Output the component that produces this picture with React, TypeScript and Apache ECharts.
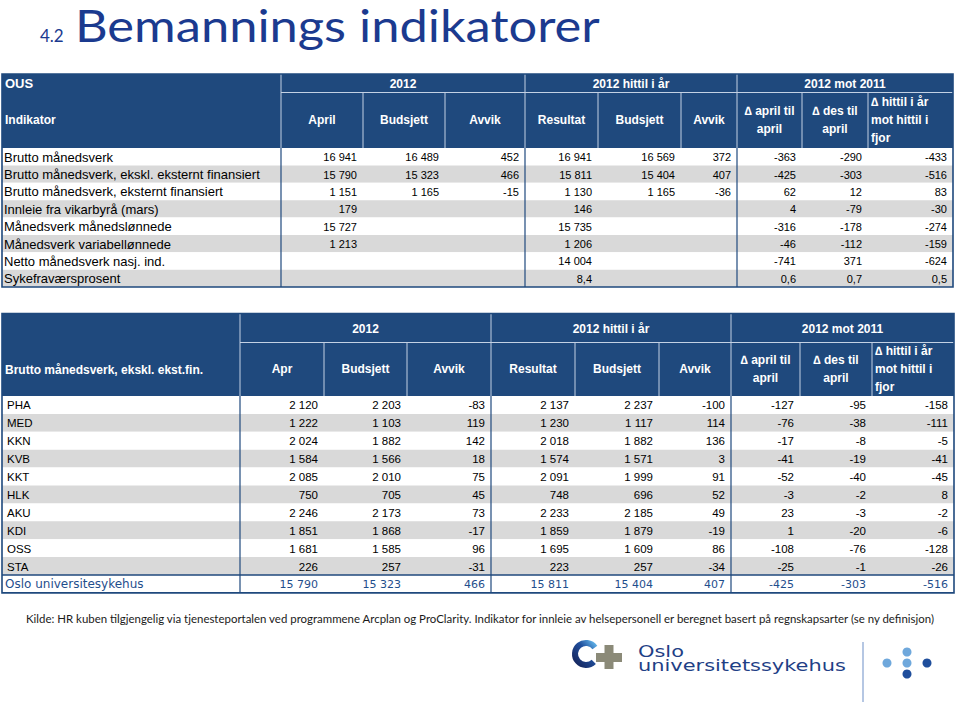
import React, { useEffect, useRef } from "react";
import * as echarts from "echarts";

// ---------- DATA ----------
const titleNumber = "4.2";
const titleText = "Bemannings indikatorer";
const footnote =
  "Kilde: HR kuben tilgjengelig via tjenesteportalen ved programmene Arcplan og ProClarity. Indikator for innleie av helsepersonell er beregnet basert på regnskapsarter (se ny definisjon)";

const groupTitles = ["2012", "2012 hittil i år", "2012 mot 2011"];

const t1Corner = "OUS";
const t1Head = "Indikator";
const t1ColumnTitles = [
  "April", "Budsjett", "Avvik", "Resultat", "Budsjett", "Avvik",
  "∆ april til\napril", "∆ des til\napril", "∆ hittil i år\nmot hittil i\nfjor",
];
const t1Indicators = [
  "Brutto månedsverk",
  "Brutto månedsverk, ekskl. eksternt finansiert",
  "Brutto månedsverk, eksternt finansiert",
  "Innleie fra vikarbyrå (mars)",
  "Månedsverk månedslønnede",
  "Månedsverk variabellønnede",
  "Netto månedsverk nasj. ind.",
  "Sykefraværsprosent",
];
const t1April = [16941, 15790, 1151, 179, 15727, 1213, null, null];
const t1Budget = [16489, 15323, 1165, null, null, null, null, null];
const t1Dev = [452, 466, -15, null, null, null, null, null];
const t1YtdResult = [16941, 15811, 1130, 146, 15735, 1206, 14004, 8.4];
const t1YtdBudget = [16569, 15404, 1165, null, null, null, null, null];
const t1YtdDev = [372, 407, -36, null, null, null, null, null];
const t1DeltaAprApr = [-363, -425, 62, 4, -316, -46, -741, 0.6];
const t1DeltaDecApr = [-290, -303, 12, -79, -178, -112, 371, 0.7];
const t1DeltaYtd = [-433, -516, 83, -30, -274, -159, -624, 0.5];

const t2Head = "Brutto månedsverk, ekskl. ekst.fin.";
const t2ColumnTitles = [
  "Apr", "Budsjett", "Avvik", "Resultat", "Budsjett", "Avvik",
  "∆ april til\napril", "∆ des til\napril", "∆ hittil i år\nmot hittil i\nfjor",
];
const t2Units = ["PHA", "MED", "KKN", "KVB", "KKT", "HLK", "AKU", "KDI", "OSS", "STA", "Oslo universitesykehus"];
const t2Apr = [2120, 1222, 2024, 1584, 2085, 750, 2246, 1851, 1681, 226, 15790];
const t2Budget = [2203, 1103, 1882, 1566, 2010, 705, 2173, 1868, 1585, 257, 15323];
const t2Dev = [-83, 119, 142, 18, 75, 45, 73, -17, 96, -31, 466];
const t2YtdResult = [2137, 1230, 2018, 1574, 2091, 748, 2233, 1859, 1695, 223, 15811];
const t2YtdBudget = [2237, 1117, 1882, 1571, 1999, 696, 2185, 1879, 1609, 257, 15404];
const t2YtdDev = [-100, 114, 136, 3, 91, 52, 49, -19, 86, -34, 407];
const t2DeltaAprApr = [-127, -76, -17, -41, -52, -3, 23, 1, -108, -25, -425];
const t2DeltaDecApr = [-95, -38, -8, -19, -40, -2, -3, -20, -76, -1, -303];
const t2DeltaYtd = [-158, -111, -5, -41, -45, 8, -2, -6, -128, -26, -516];

const logoName1 = "Oslo";
const logoName2 = "universitetssykehus";

// ---------- STYLE ----------
const NAVY = "#1F497D";
const HEAD_LINE = "#c3d1e4";
const STRIPE = "#D9D9D9";
const TITLE_BLUE = "#1b3a8f";
const TOTAL_BLUE = "#1f4e8c";

function fmt(v: number | null): string {
  if (v === null || v === undefined) return "";
  if (!Number.isInteger(v)) return v.toFixed(1).replace(".", ",");
  const s = Math.abs(v).toString().replace(/\B(?=(\d{3})+(?!\d))/g, " ");
  return (v < 0 ? "-" : "") + s;
}

function measure(text: string, font: string): number {
  const ctx = document.createElement("canvas").getContext("2d");
  if (!ctx) return 1;
  ctx.font = font;
  return ctx.measureText(text).width || 1;
}

type TableSpec = {
  edges: number[];
  top: number;
  h1: number;
  hb: number;
  rowH: number;
  corner: string;
  cornerLabel: string;
  cornerLabelY: number;
  colTitles: string[];
  labels: string[];
  cols: (number | null)[][];
  labelFont: number;
  numFont: number;
  labelX: number;
  hasTotal: boolean;
};

function buildTable(s: TableSpec): any[] {
  const els: any[] = [];
  const left = s.edges[0];
  const right = s.edges[s.edges.length - 1];
  const rows = s.labels.length;
  const bottom = s.hb + s.rowH * rows;
  const headMid2 = (s.h1 + s.hb) / 2;

  els.push({ type: "rect", silent: true, shape: { x: left, y: s.top, width: right - left, height: s.hb - s.top }, style: { fill: NAVY } });
  for (let i = 0; i < rows; i++) {
    const isTotal = s.hasTotal && i === rows - 1;
    els.push({
      type: "rect", silent: true,
      shape: { x: left, y: s.hb + i * s.rowH, width: right - left, height: s.rowH },
      style: { fill: i % 2 === 1 && !isTotal ? STRIPE : "#ffffff" },
    });
  }
  // header lines
  els.push({ type: "line", silent: true, shape: { x1: s.edges[1], y1: s.h1, x2: right, y2: s.h1 }, style: { stroke: HEAD_LINE, lineWidth: 1 } });
  for (let k = 1; k < s.edges.length - 1; k++) {
    const full = k === 1 || k === 4 || k === 7;
    els.push({ type: "line", silent: true, shape: { x1: s.edges[k], y1: full ? s.top : s.h1, x2: s.edges[k], y2: s.hb }, style: { stroke: HEAD_LINE, lineWidth: 1 } });
  }
  // body lines
  [1, 4, 7].forEach((k) => {
    els.push({ type: "line", silent: true, shape: { x1: s.edges[k], y1: s.hb, x2: s.edges[k], y2: bottom }, style: { stroke: NAVY, lineWidth: 1.2 } });
  });
  if (s.hasTotal) {
    const ty = s.hb + (rows - 1) * s.rowH;
    els.push({ type: "line", silent: true, shape: { x1: left, y1: ty, x2: right, y2: ty }, style: { stroke: NAVY, lineWidth: 1.5 } });
  }
  els.push({ type: "rect", silent: true, shape: { x: left, y: s.top, width: right - left, height: bottom - s.top }, style: { fill: "none", stroke: NAVY, lineWidth: 1.6 } });

  const headFont = 'bold 12px "Liberation Sans", Arial, sans-serif';
  if (s.corner) {
    els.push({ type: "text", silent: true, x: left + 3, y: (s.top + s.h1) / 2, style: { text: s.corner, font: 'bold 13px "Liberation Sans", Arial, sans-serif', fill: "#fff", align: "left", verticalAlign: "middle" } });
  }
  els.push({ type: "text", silent: true, x: left + 3, y: s.cornerLabelY, style: { text: s.cornerLabel, font: headFont, fill: "#fff", align: "left", verticalAlign: "middle" } });
  const groupEdges = [[1, 4], [4, 7], [7, 10]];
  groupTitles.forEach((g, gi) => {
    const x = (s.edges[groupEdges[gi][0]] + s.edges[groupEdges[gi][1]]) / 2;
    els.push({ type: "text", silent: true, x, y: (s.top + s.h1) / 2 + 0.5, style: { text: g, font: headFont, fill: "#fff", align: "center", verticalAlign: "middle" } });
  });
  s.colTitles.forEach((t, ci) => {
    const x0 = s.edges[ci + 1];
    const x1 = s.edges[ci + 2];
    const lastCol = ci === s.colTitles.length - 1;
    els.push({
      type: "text", silent: true,
      x: lastCol ? x0 + 3 : (x0 + x1) / 2,
      y: headMid2,
      style: { text: t, font: headFont, fill: "#fff", align: lastCol ? "left" : "center", verticalAlign: "middle", lineHeight: 18 },
    });
  });

  for (let i = 0; i < rows; i++) {
    const isTotal = s.hasTotal && i === rows - 1;
    const cy = s.hb + (i + 0.5) * s.rowH + 0.5;
    els.push({
      type: "text", silent: true,
      x: isTotal ? left + 3 : s.labelX, y: cy,
      style: {
        text: s.labels[i],
        font: isTotal ? '12px "DejaVu Sans", sans-serif' : `${s.labelFont}px "Liberation Sans", Arial, sans-serif`,
        fill: isTotal ? TOTAL_BLUE : "#000", align: "left", verticalAlign: "middle",
      },
    });
    s.cols.forEach((col, ci) => {
      const txt = fmt(col[i]);
      if (!txt) return;
      els.push({
        type: "text", silent: true,
        x: s.edges[ci + 2] - 6, y: cy,
        style: {
          text: txt,
          font: isTotal ? '11px "DejaVu Sans", sans-serif' : `${s.numFont}px "Liberation Sans", Arial, sans-serif`,
          fill: isTotal ? TOTAL_BLUE : "#000", align: "right", verticalAlign: "middle",
        },
      });
    });
  }
  return els;
}

export default function App() {
  const ref = useRef<HTMLDivElement>(null);
  useEffect(() => {
    document.body.style.margin = "0";
    if (!ref.current) return;
    const chart = echarts.init(ref.current, null, { renderer: "svg" });

    const titleFont = '44px Lato, "Open Sans", sans-serif';
    const titleScale = 525 / measure(titleText, titleFont);
    const footFont = '12px Lato, "Open Sans", sans-serif';
    const footScale = 911 / measure(footnote, footFont);
    const logoFont = '15px "DejaVu Sans", sans-serif';
    const logoScale = 208 / measure(logoName2, logoFont);

    const t1 = buildTable({
      edges: [2, 281, 363, 445, 525, 598, 681, 737, 802, 868, 953],
      top: 74, h1: 92.5, hb: 148, rowH: 17.375,
      corner: t1Corner, cornerLabel: t1Head, cornerLabelY: 120,
      colTitles: t1ColumnTitles, labels: t1Indicators,
      cols: [t1April, t1Budget, t1Dev, t1YtdResult, t1YtdBudget, t1YtdDev, t1DeltaAprApr, t1DeltaDecApr, t1DeltaYtd],
      labelFont: 13, numFont: 11, labelX: 4, hasTotal: false,
    });
    const t2 = buildTable({
      edges: [2, 240, 324, 407, 491, 575, 659, 731, 800, 872, 954],
      top: 313.5, h1: 342.5, hb: 396, rowH: 17.9,
      corner: "", cornerLabel: t2Head, cornerLabelY: 370,
      colTitles: t2ColumnTitles, labels: t2Units,
      cols: [t2Apr, t2Budget, t2Dev, t2YtdResult, t2YtdBudget, t2YtdDev, t2DeltaAprApr, t2DeltaDecApr, t2DeltaYtd],
      labelFont: 11.5, numFont: 11.5, labelX: 7, hasTotal: true,
    });

    const logo: any[] = [
      {
        type: "arc", silent: true,
        shape: { cx: 586, cy: 654, r: 11, startAngle: Math.PI * 0.25, endAngle: Math.PI * 1.8, clockwise: true },
        style: {
          fill: "none", lineWidth: 6,
          stroke: new echarts.graphic.LinearGradient(0, 1, 1, 0, [
            { offset: 0, color: "#16245a" },
            { offset: 0.6, color: "#1f4e9c" },
            { offset: 1, color: "#5fb0e6" },
          ]),
        },
      },
      { type: "rect", silent: true, shape: { x: 596, y: 653, width: 26, height: 9 }, style: { fill: "#8b8a78" } },
      { type: "rect", silent: true, shape: { x: 604.5, y: 645, width: 9, height: 24 }, style: { fill: "#8b8a78" } },
      { type: "text", silent: true, x: 638, y: 652, scaleX: logoScale, style: { text: logoName1, font: logoFont, fill: "#1f3f86", align: "left", verticalAlign: "middle" } },
      { type: "text", silent: true, x: 638, y: 666, scaleX: logoScale, style: { text: logoName2, font: logoFont, fill: "#1f3f86", align: "left", verticalAlign: "middle" } },
      { type: "line", silent: true, shape: { x1: 863, y1: 642, x2: 863, y2: 702 }, style: { stroke: "#6d8fc7", lineWidth: 1 } },
      { type: "circle", silent: true, shape: { cx: 907, cy: 652, r: 4.5 }, style: { fill: "#6fa8dc" } },
      { type: "circle", silent: true, shape: { cx: 887, cy: 663, r: 4.5 }, style: { fill: "#6fa8dc" } },
      { type: "circle", silent: true, shape: { cx: 907, cy: 663, r: 4.5 }, style: { fill: "#6fa8dc" } },
      { type: "circle", silent: true, shape: { cx: 927, cy: 663, r: 4.5 }, style: { fill: "#1f4e9c" } },
      { type: "circle", silent: true, shape: { cx: 907, cy: 674, r: 4.5 }, style: { fill: "#1f4e9c" } },
    ];

    const option: any = {
      animation: false,
      backgroundColor: "#ffffff",
      graphic: {
        elements: [
          { type: "text", silent: true, x: 40, y: 35, style: { text: titleNumber, font: '17px Lato, "Open Sans", sans-serif', fill: TITLE_BLUE, align: "left", verticalAlign: "middle" } },
          { type: "text", silent: true, x: 75, y: 25, scaleX: titleScale, style: { text: titleText, font: titleFont, fill: TITLE_BLUE, align: "left", verticalAlign: "middle" } },
          ...t1,
          ...t2,
          { type: "text", silent: true, x: 26, y: 618, scaleX: footScale, style: { text: footnote, font: footFont, fill: "#1a1a1a", align: "left", verticalAlign: "middle" } },
          ...logo,
        ],
      },
    };
    chart.setOption(option);
    return () => chart.dispose();
  }, []);
  return <div ref={ref} style={{ position: "absolute", left: 0, top: 0, width: 960, height: 705 }} />;
}
